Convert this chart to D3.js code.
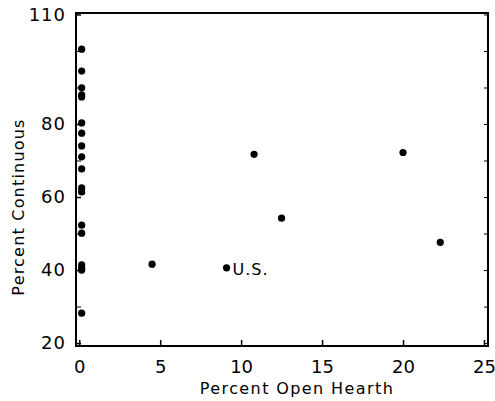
<!DOCTYPE html>
<html>
<head>
<meta charset="utf-8">
<script src="https://cdn.jsdelivr.net/npm/d3@7"></script>
<style>
  body { margin: 0; background: #fff; }
  text { font-family: "DejaVu Sans", sans-serif; fill: #000; }
</style>
</head>
<body>
<script>
// data
let openHearth = [0.15, 0.15, 0.15, 0.15, 0.15, 0.15, 0.15, 0.15, 0.15, 0.15, 0.15, 0.15, 0.15, 0.15, 0.15, 0.15, 0.15, 0.15,
                  4.5, 9.1, 10.8, 12.5, 20.0, 22.3];
let continuous = [100.5, 94.5, 89.9, 88.0, 87.4, 80.3, 77.5, 74.0, 71.0, 67.7, 62.5, 61.4, 52.3, 50.1, 41.4, 40.5, 40.0, 28.2,
                  41.6, 40.6, 71.7, 54.2, 72.2, 47.6];
let pointLabels = ["", "", "", "", "", "", "", "", "", "", "", "", "", "", "", "", "", "",
                   "", "U.S.", "", "", "", ""];
let xTicks = [0, 5, 10, 15, 20, 25];
let yTicks = [20, 40, 60, 80, 110];
let yMinorTicks = [30, 50, 70, 90, 100];

let margin = null, width = null, height = null;
let svg = null;
let x, y = null;

setupCanvasSize();
appendSvg("body");
setupScales();
appendFrame();
appendAxes();
appendPoints();
appendTitles();

function setupCanvasSize() {
  margin = {top: 13, left: 76, bottom: 55, right: 7};
  width = 495 - margin.left - margin.right;
  height = 401 - margin.top - margin.bottom;
}

function appendSvg(domElement) {
  svg = d3.select(domElement).append("svg")
    .attr("width", 495)
    .attr("height", 401)
    .append("g")
    .attr("transform", `translate(${margin.left}, ${margin.top})`);
}

function setupScales() {
  x = d3.scaleLinear().domain([-0.2, 25.25]).range([0, width]);
  y = d3.scaleLinear().domain([19.2, 110.4]).range([height, 0]);
}

function appendFrame() {
  svg.append("rect")
    .attr("width", width)
    .attr("height", height)
    .attr("fill", "none")
    .attr("stroke", "#000")
    .attr("stroke-width", 2);
}

function appendAxes() {
  // bottom axis, ticks pointing inward
  let xAxis = svg.append("g")
    .attr("transform", `translate(0, ${height})`)
    .call(d3.axisBottom(x).tickValues(xTicks).tickSizeInner(-6).tickSizeOuter(0).tickPadding(14));
  xAxis.select(".domain").remove();
  xAxis.selectAll("line").attr("stroke-width", 1.5);
  xAxis.selectAll("text").attr("font-size", 18);

  // left axis
  let yAxis = svg.append("g")
    .call(d3.axisLeft(y).tickValues(yTicks).tickSizeInner(-5).tickSizeOuter(0).tickPadding(10));
  yAxis.select(".domain").remove();
  yAxis.selectAll("line").attr("stroke-width", 1.5);
  yAxis.selectAll("text").attr("font-size", 18).attr("letter-spacing", 1);

  let yMinor = svg.append("g")
    .call(d3.axisLeft(y).tickValues(yMinorTicks).tickSize(-5).tickFormat(""));
  yMinor.select(".domain").remove();

  // right axis small inward ticks
  let yRight = svg.append("g")
    .attr("transform", `translate(${width}, 0)`)
    .call(d3.axisRight(y).tickValues(yTicks.concat(yMinorTicks)).tickSize(-4).tickFormat(""));
  yRight.select(".domain").remove();
}

function appendPoints() {
  let pts = d3.range(openHearth.length);
  svg.selectAll("circle.pt")
    .data(pts)
    .enter().append("circle")
    .attr("class", "pt")
    .attr("cx", function(i) { return x(openHearth[i]); })
    .attr("cy", function(i) { return y(continuous[i]); })
    .attr("r", 3.6)
    .attr("fill", "#000");

  svg.selectAll("text.lbl")
    .data(pts.filter(function(i) { return pointLabels[i] !== ""; }))
    .enter().append("text")
    .attr("class", "lbl")
    .attr("x", function(i) { return x(openHearth[i]) + 6; })
    .attr("y", function(i) { return y(continuous[i]) + 7; })
    .attr("font-size", 16)
    .attr("letter-spacing", 1)
    .text(function(i) { return pointLabels[i]; });
}

function appendTitles() {
  svg.append("text")
    .attr("x", 221)
    .attr("y", height + 48)
    .attr("text-anchor", "middle")
    .attr("font-size", 16)
    .attr("letter-spacing", 1.4)
    .text("Percent Open Hearth");

  svg.append("text")
    .attr("transform", `translate(-52, ${207 - margin.top}) rotate(-90)`)
    .attr("text-anchor", "middle")
    .attr("font-size", 16)
    .attr("letter-spacing", 1.2)
    .text("Percent Continuous");
}
</script>
</body>
</html>
